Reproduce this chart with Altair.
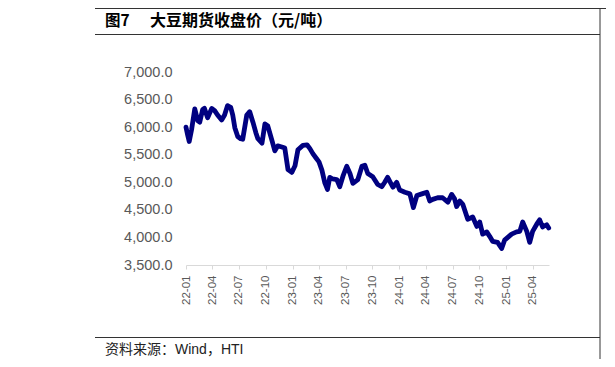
import altair as alt
import pandas as pd

# ---- data ----
dates = [
    "2022-01-01", "2022-01-07", "2022-01-12", "2022-01-20", "2022-01-31", "2022-02-10",
    "2022-02-17", "2022-02-27", "2022-03-05", "2022-03-16", "2022-03-30", "2022-04-09",
    "2022-04-19", "2022-05-03", "2022-05-13", "2022-05-23", "2022-06-03", "2022-06-10",
    "2022-06-17", "2022-06-27", "2022-07-07", "2022-07-14", "2022-07-28", "2022-08-07",
    "2022-08-18", "2022-08-28", "2022-09-04", "2022-09-18", "2022-09-28", "2022-10-08",
    "2022-10-22", "2022-11-01", "2022-11-11", "2022-11-25", "2022-12-05", "2022-12-16",
    "2022-12-29", "2023-01-09", "2023-01-19", "2023-02-05", "2023-02-19", "2023-03-01",
    "2023-03-11", "2023-03-22", "2023-04-01", "2023-04-11", "2023-04-21", "2023-04-30",
    "2023-05-08", "2023-05-18", "2023-06-01", "2023-06-11", "2023-06-22", "2023-07-02",
    "2023-07-05", "2023-07-16", "2023-07-26", "2023-08-12", "2023-08-26", "2023-09-05",
    "2023-09-15", "2023-10-02", "2023-10-19", "2023-11-02", "2023-11-12", "2023-11-22",
    "2023-12-10", "2023-12-23", "2024-01-02", "2024-01-20", "2024-02-06", "2024-02-18",
    "2024-03-01", "2024-03-18", "2024-04-04", "2024-04-14", "2024-04-24", "2024-05-11",
    "2024-05-28", "2024-06-15", "2024-06-28", "2024-07-08", "2024-07-15", "2024-07-26",
    "2024-08-05", "2024-08-22", "2024-09-08", "2024-09-22", "2024-10-02", "2024-10-12",
    "2024-10-26", "2024-11-05", "2024-11-15", "2024-12-02", "2024-12-16", "2024-12-26",
    "2025-01-06", "2025-01-19", "2025-02-05", "2025-02-16", "2025-02-26", "2025-03-12",
    "2025-03-22", "2025-04-01", "2025-04-15", "2025-04-25", "2025-05-05", "2025-05-19",
    "2025-05-26",
]
prices = [
    6000, 5850, 5740, 5950, 6330, 6120,
    6090, 6320, 6340, 6170, 6340, 6300,
    6220, 6130, 6220, 6390, 6360, 6220,
    5990, 5830, 5790, 5780, 6220, 6280,
    6090, 5900, 5790, 5710, 6060, 6020,
    5760, 5570, 5660, 5640, 5620, 5230,
    5180, 5300, 5590, 5670, 5680, 5610,
    5520, 5440, 5370, 5220, 4990, 4870,
    5090, 5060, 5050, 4920, 5110, 5250,
    5290, 5160, 4980, 5050, 5290, 5310,
    5160, 5100, 4960, 4920, 5000, 5090,
    4910, 5000, 4860, 4820, 4790, 4540,
    4760, 4790, 4820, 4660, 4690, 4720,
    4720, 4640, 4780, 4700, 4560, 4660,
    4600, 4330, 4370, 4200, 4280, 4060,
    4100, 4020, 3930, 3910, 3800, 3950,
    4000, 4060, 4100, 4110, 4280, 4110,
    3910, 4110, 4240, 4320, 4190, 4230,
    4170,
]
y_ticks = [3500, 4000, 4500, 5000, 5500, 6000, 6500, 7000]
x_tick_years = [2022] * 4 + [2023] * 4 + [2024] * 4 + [2025] * 2
x_tick_months = [1, 4, 7, 10] * 3 + [1, 4]

fig_label = "图7"
title_text = "大豆期货收盘价（元/吨）"
source_text = "资料来源：Wind，HTI"

df = pd.DataFrame({"date": dates, "price": prices})

# whole canvas (group) size; plot region placed inside via scale ranges
CW, CH = 598, 351
PX0, PX1 = 178, 541     # plot x-range inside the group
PY_TOP, PY_BOT = 64, 257  # plot y-range inside the group
GRAY = "#595959"

x_values = [alt.DateTime(year=y, month=m, date=1, utc=True)
            for y, m in zip(x_tick_years, x_tick_months)]

line = alt.Chart(df).mark_line(
    color="#000080", strokeWidth=4.8, strokeJoin="round", strokeCap="round"
).encode(
    x=alt.X(
        "date:T",
        scale=alt.Scale(
            type="utc",
            domain=[alt.DateTime(year=2022, month=1, date=1, utc=True),
                    alt.DateTime(year=2025, month=5, date=27, utc=True)],
            range=[PX0, PX1],
        ),
        axis=alt.Axis(
            title=None, values=x_values,
            labelExpr="utcFormat(datum.value, '%y-%m')",
            labelAngle=-90, labelFontSize=11.5, labelColor=GRAY,
            labelFont="Liberation Sans", labelPadding=6,
            domainColor="#d9d9d9", tickColor="#d9d9d9", tickSize=4,
            grid=False, labelOverlap=False, offset=PY_BOT - CH,
        ),
    ),
    y=alt.Y(
        "price:Q",
        scale=alt.Scale(domain=[3500, 7000], nice=False, zero=False,
                        range=[PY_BOT, PY_TOP]),
        axis=alt.Axis(
            title=None, values=y_ticks, format=",.1f", labelFontSize=14.5,
            labelColor=GRAY, labelFont="Liberation Sans", labelPadding=14,
            domain=False, ticks=False, grid=False, offset=-PX0,
        ),
    ),
)

one = pd.DataFrame({"a": [0]})

def text_layer(txt, x, y, size, weight="normal", font="Noto Sans CJK SC", color="#000000"):
    return alt.Chart(pd.DataFrame({"t": [txt]})).mark_text(
        align="left", baseline="alphabetic", fontSize=size, fontWeight=weight,
        font=font, color=color,
    ).encode(text="t:N", x=alt.value(x), y=alt.value(y))

def hrule(x1, x2, y, color="#333333", w=1):
    return alt.Chart(one).mark_rule(color=color, strokeWidth=w).encode(
        x=alt.value(x1), x2=alt.value(x2), y=alt.value(y))

def vrule(x, y1, y2, color="#333333", w=1):
    return alt.Chart(one).mark_rule(color=color, strokeWidth=w).encode(
        x=alt.value(x), y=alt.value(y1), y2=alt.value(y2))

layers = [
    line,
    text_layer(fig_label, 97, 17.8, 15.5, "bold"),
    text_layer(title_text, 142, 17.8, 16, "bold"),
    text_layer(source_text, 97, 346, 14, "normal",
               font="Liberation Sans, Noto Sans CJK SC", color="#222222"),
    hrule(87, CW, 0.5),
    hrule(87, 592, 26.5),
    hrule(87, 592, 329.5),
    vrule(592, 0, CH),
]

chart = alt.layer(*layers).properties(
    width=CW, height=CH,
    autosize=alt.AutoSizeParams(type="none"),
    padding=0,
).configure_view(stroke=None)

chart.save("out.html", embed_options={"renderer": "svg", "actions": False})
